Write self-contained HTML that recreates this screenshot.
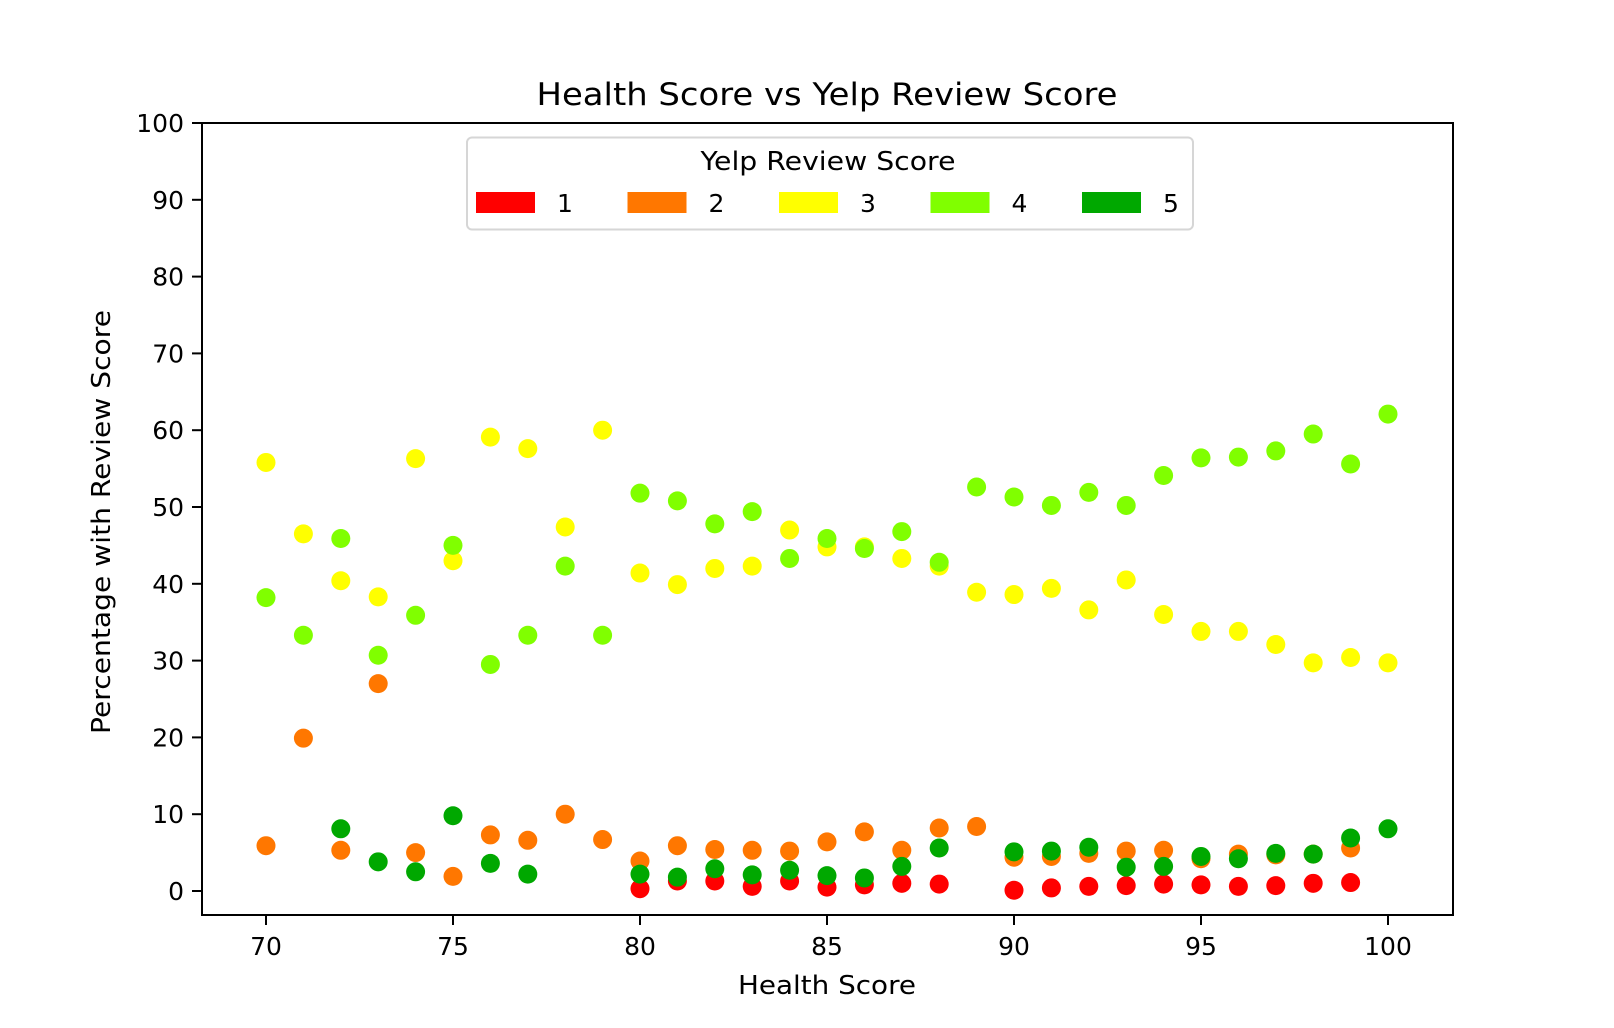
<!DOCTYPE html>
<html><head><meta charset="utf-8"><style>
html,body{margin:0;padding:0;background:#fff;}
svg{display:block;font-family:"DejaVu Sans","Liberation Sans",sans-serif;}
</style></head><body>
<svg id="chart" width="1614" height="1028" viewBox="0 0 1614 1028" xmlns="http://www.w3.org/2000/svg">
<rect width="1614" height="1028" fill="#fff"/>
<text x="827" y="105" text-anchor="middle" font-size="31" textLength="581" lengthAdjust="spacingAndGlyphs" fill="#000">Health Score vs Yelp Review Score</text>
<g id="marks"></g>
<g id="axes"></g>
<text x="827" y="994" text-anchor="middle" font-size="26" textLength="178" lengthAdjust="spacingAndGlyphs" fill="#000">Health Score</text>
<text transform="translate(110,522) rotate(-90)" text-anchor="middle" font-size="26" textLength="424" lengthAdjust="spacingAndGlyphs" fill="#000">Percentage with Review Score</text>
<g id="legend"></g>
</svg>
<script>
const xTicks = [70, 75, 80, 85, 90, 95, 100];
const yTicks = [0, 10, 20, 30, 40, 50, 60, 70, 80, 90, 100];
const seriesNames = ["1", "2", "3", "4", "5"];
const seriesColors = ["#ff0000", "#ff7700", "#ffff00", "#80ff00", "#00a800"];
const s1x = [80,81,82,83,84,85,86,87,88,90,91,92,93,94,95,96,97,98,99];
const s1y = [0.3,1.3,1.3,0.6,1.3,0.5,0.8,1.0,0.9,0.1,0.4,0.6,0.7,0.9,0.8,0.6,0.7,1.0,1.1];
const s2x = [70,71,72,73,74,75,76,77,78,79,80,81,82,83,84,85,86,87,88,89,90,91,92,93,94,95,96,97,98,99];
const s2y = [5.9,19.9,5.3,27,5.0,1.9,7.3,6.6,10,6.7,3.9,5.9,5.4,5.3,5.2,6.4,7.7,5.3,8.2,8.4,4.4,4.5,4.9,5.2,5.3,4.2,4.8,4.7,4.8,5.6];
const s3x = [70,71,72,73,74,75,76,77,78,79,80,81,82,83,84,85,86,87,88,89,90,91,92,93,94,95,96,97,98,99,100];
const s3y = [55.8,46.5,40.4,38.3,56.3,43,59.1,57.6,47.4,60,41.4,39.9,42,42.3,47,44.8,44.8,43.3,42.3,38.9,38.6,39.4,36.6,40.5,36,33.8,33.8,32.1,29.7,30.4,29.7];
const s4x = [70,71,72,73,74,75,76,77,78,79,80,81,82,83,84,85,86,87,88,89,90,91,92,93,94,95,96,97,98,99,100];
const s4y = [38.2,33.3,45.9,30.7,35.9,45,29.5,33.3,42.3,33.3,51.8,50.8,47.8,49.4,43.3,45.9,44.6,46.8,42.8,52.6,51.3,50.2,51.9,50.2,54.1,56.4,56.5,57.3,59.5,55.6,62.1];
const s5x = [72,73,74,75,76,77,80,81,82,83,84,85,86,87,88,90,91,92,93,94,95,96,97,98,99,100];
const s5y = [8.1,3.8,2.5,9.8,3.6,2.2,2.2,1.8,2.9,2.1,2.7,2.0,1.7,3.2,5.6,5.1,5.2,5.7,3.1,3.2,4.5,4.2,4.9,4.8,6.9,8.1];

const NS = "http://www.w3.org/2000/svg";
const L = 202, R = 1453, T = 123, B = 915;
function xs(v){ return 266 + (v - 70) * (1388 - 266) / 30; }
function ys(v){ return 891 - v * (891 - 123) / 100; }
function mk(tag, attrs, parent){
  const e = document.createElementNS(NS, tag);
  for (const k in attrs) e.setAttribute(k, attrs[k]);
  parent.appendChild(e);
  return e;
}
const marks = document.getElementById("marks");
const allX = [s1x, s2x, s3x, s4x, s5x];
const allY = [s1y, s2y, s3y, s4y, s5y];
for (let s = 0; s < 5; s++) {
  const g = mk("g", {}, marks);
  
  
  for (let i = 0; i < allX[s].length; i++) {
    const c = mk("circle", {cx: xs(allX[s][i]), cy: ys(allY[s][i]), r: 9.5, fill: seriesColors[s]}, g);
    
    
  }
}
const axes = document.getElementById("axes");
const frame = mk("rect", {x: L, y: T, width: R - L, height: B - T, fill: "none", stroke: "#000", "stroke-width": 2}, axes);


xTicks.forEach(v => {
  const x = xs(v);
  const t = mk("line", {x1: x, x2: x, y1: B, y2: B + 10, stroke: "#000", "stroke-width": 2}, axes);
  
  
  const lb = mk("text", {x: x, y: 955, "text-anchor": "middle", "font-size": 25, fill: "#000"}, axes);
  lb.textContent = v;
  
  
});
yTicks.forEach(v => {
  const y = ys(v);
  const t = mk("line", {x1: L - 10, x2: L, y1: y, y2: y, stroke: "#000", "stroke-width": 2}, axes);
  
  
  const lb = mk("text", {x: L - 18, y: y + 9, "text-anchor": "end", "font-size": 25, fill: "#000"}, axes);
  lb.textContent = v;
  
  
});
const leg = document.getElementById("legend");
const box = mk("rect", {x: 467, y: 137.5, width: 726, height: 92, rx: 5, fill: "#fff", "fill-opacity": 0.8, stroke: "#d6d6d6", "stroke-width": 2}, leg);


const lt = mk("text", {x: 828, y: 170, "text-anchor": "middle", "font-size": 26, textLength: 255, lengthAdjust: "spacingAndGlyphs", fill: "#000"}, leg);
lt.textContent = "Yelp Review Score";


for (let s = 0; s < 5; s++) {
  const x0 = 476 + s * 151.5;
  const p = mk("rect", {x: x0, y: 192, width: 59, height: 21, fill: seriesColors[s]}, leg);
  
  
  const t = mk("text", {x: x0 + 81, y: 212, "font-size": 25, fill: "#000"}, leg);
  t.textContent = seriesNames[s];
  
  
}
</script>
</body></html>
